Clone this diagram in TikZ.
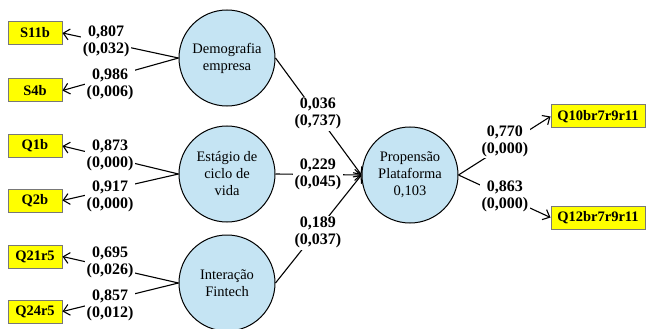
\documentclass[tikz,border=0pt]{standalone}
\usepackage{fontspec}
\setmainfont{Liberation Serif}
\usetikzlibrary{arrows.meta}
\definecolor{circfill}{RGB}{197,228,243}
\definecolor{boxfill}{RGB}{255,255,0}
\definecolor{boxline}{RGB}{120,120,120}
\begin{document}
\begin{tikzpicture}[x=1pt,y=-1pt,
  latent/.style={circle, draw=black, line width=1pt, fill=circfill, minimum size=96pt, inner sep=0pt, align=center, font=\fontsize{14.5}{17}\selectfont},
  indic/.style={rectangle, draw=boxline, line width=1pt, fill=boxfill, minimum height=23pt, inner sep=0pt, font=\fontsize{14.5}{17}\selectfont\bfseries},
  lindic/.style={indic, minimum width=54pt},
  rindic/.style={indic, minimum width=94pt},
  lbl/.style={fill=white, inner sep=1.5pt, align=center, font=\fontsize{16}{17}\selectfont\bfseries},
  conn/.style={line width=1.1pt, -{Straight Barb[length=6pt,width=11pt]}}
]
\useasboundingbox (0,0) rectangle (646,329);
\fill[white] (0,0) rectangle (646,329);

% latent variables
\node[latent] (dem) at (227,58) {Demografia\\empresa};
\node[latent] (est) at (227,174) {Estágio de\\ciclo de\\vida};
\node[latent] (int) at (227,283) {Interação\\Fintech};
\node[latent] (prop) at (410,175) {Propensão\\Plataforma\\0,103};

% indicators
\node[lindic] (s11b) at (35,33) {S11b};
\node[lindic] (s4b) at (35,90.5) {S4b};
\node[lindic] (q1b) at (35,146) {Q1b};
\node[lindic] (q2b) at (35,200.5) {Q2b};
\node[lindic] (q21) at (35,256.5) {Q21r5};
\node[lindic] (q24) at (35,311.5) {Q24r5};
\node[rindic] (q10) at (598,116.5) {Q10br7r9r11};
\node[rindic] (q12) at (598,217.5) {Q12br7r9r11};

% outer loadings
\draw[conn] (dem.west) -- node[lbl, pos=0.624, yshift=1.4pt] {0,807\\(0,032)} (s11b.east);
\draw[conn] (dem.west) -- node[lbl, pos=0.59, yshift=-6.8pt] {0,986\\(0,006)} (s4b.east);
\draw[conn] (est.west) -- node[lbl, pos=0.59, yshift=2.5pt] {0,873\\(0,000)} (q1b.east);
\draw[conn] (est.west) -- node[lbl, pos=0.59, yshift=-6.4pt] {0,917\\(0,000)} (q2b.east);
\draw[conn] (int.west) -- node[lbl, pos=0.59, yshift=5pt] {0,695\\(0,026)} (q21.east);
\draw[conn] (int.west) -- node[lbl, pos=0.59, yshift=-5.6pt] {0,857\\(0,012)} (q24.east);

% structural paths
\draw[conn] (dem.east) -- node[lbl, pos=0.494, yshift=2pt] {0,036\\(0,737)} (prop.west);
\draw[conn] (est.east) -- node[lbl, pos=0.494] {0,229\\(0,045)} (prop.west);
\draw[conn] (int.east) -- node[lbl, pos=0.494, yshift=-3pt] {0,189\\(0,037)} (prop.west);

\draw[conn] (prop.east) -- node[lbl, pos=0.505, yshift=4.5pt] {0,770\\(0,000)} (q10.west);
\draw[conn] (prop.east) -- node[lbl, pos=0.505] {0,863\\(0,000)} (q12.west);
\end{tikzpicture}
\end{document}
